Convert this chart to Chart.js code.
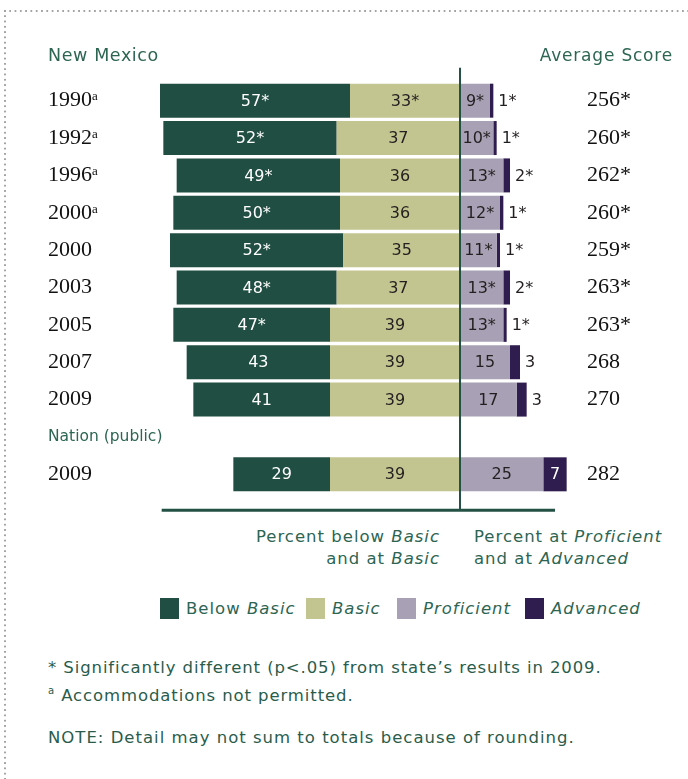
<!DOCTYPE html>
<html>
<head>
<meta charset="utf-8">
<script src="https://cdn.jsdelivr.net/npm/chart.js@4.4.1/dist/chart.umd.min.js"></script>
<style>
  html, body { margin: 0; padding: 0; background: #fff; }
  body { width: 688px; height: 779px; position: relative; overflow: hidden;
         font-family: 'DejaVu Sans', sans-serif; color: #2d6553; }
  .dots-top { position: absolute; left: 4px; top: 10px; width: 684px; height: 2px;
              background-image: linear-gradient(to right, #a3a3a3 0 2px, transparent 2px 100%);
              background-size: 5.3px 2px; }
  .dots-left { position: absolute; left: 4px; top: 10px; width: 2px; height: 769px;
               background-image: linear-gradient(to bottom, #a3a3a3 0 2px, transparent 2px 100%);
               background-size: 2px 5.3px; }
  #chart { position: absolute; left: 0; top: 0; }
  .txt { position: absolute; font-size: 16.5px; line-height: 22px; white-space: nowrap; letter-spacing: 1px; }
  .lg { position: absolute; top: 598px; height: 21px; display: flex; align-items: center;
        font-size: 16.5px; white-space: nowrap; letter-spacing: 1px; }
  .lg .sw { display: inline-block; width: 19px; height: 21px; margin-right: 7px; }
  .notes { position: absolute; left: 48px; font-size: 16.5px; line-height: 23px; color: #2a5c4c;
           white-space: nowrap; letter-spacing: 0.9px; }
</style>
</head>
<body>
<div class="dots-top"></div>
<div class="dots-left"></div>
<canvas id="chart" width="688" height="520"></canvas>

<div class="txt" style="left:48px; top:44px; font-size:17.5px; letter-spacing:0.6px;">New Mexico</div>
<div class="txt" style="right:15px; top:44px; font-size:17px; letter-spacing:0.8px;">Average Score</div>

<div class="txt" style="right:248px; top:526px; text-align:right;">Percent below <i>Basic</i><br>and at <i>Basic</i></div>
<div class="txt" style="left:474px; top:526px;">Percent at <i>Proficient</i><br>and at <i>Advanced</i></div>

<div id="legend"></div>

<div class="notes" style="top:656px;">* Significantly different (p&lt;.05) from state’s results in 2009.<br><sup style="font-size:10px;">a</sup> Accommodations not permitted.</div>
<div class="notes" style="top:726px; letter-spacing:1px;">NOTE: Detail may not sum to totals because of rounding.</div>

<script>
const categories = ['1990ᵃ', '1992ᵃ', '1996ᵃ', '2000ᵃ', '2000', '2003', '2005', '2007', '2009', 'Nation (public)', '2009'];
const belowBasic = [57, 52, 49, 50, 52, 48, 47, 43, 41, null, 29];
const basic      = [33, 37, 36, 36, 35, 37, 39, 39, 39, null, 39];
const proficient = [9, 10, 13, 12, 11, 13, 13, 15, 17, null, 25];
const advanced   = [1, 1, 2, 1, 1, 2, 1, 3, 3, null, 7];

const belowBasicText = ['57*', '52*', '49*', '50*', '52*', '48*', '47*', '43', '41', '', '29'];
const basicText      = ['33*', '37', '36', '36', '35', '37', '39', '39', '39', '', '39'];
const proficientText = ['9*', '10*', '13*', '12*', '11*', '13*', '13*', '15', '17', '', '25'];
const advancedText   = ['1*', '1*', '2*', '1*', '1*', '2*', '1*', '3', '3', '', '7'];
const averageScore   = ['256*', '260*', '262*', '260*', '259*', '263*', '263*', '268', '270', '', '282'];

const colors = {
    belowBasic: '#214e42',
    basic: '#c3c590',
    proficient: '#a8a0b4',
    advanced: '#301d4f',
    line: '#235144'
};

// legend in html so "Basic" can be italic
const legendItems = [
    ['Below <i>Basic</i>', colors.belowBasic, 160],
    ['<i>Basic</i>', colors.basic, 306],
    ['<i>Proficient</i>', colors.proficient, 397],
    ['<i>Advanced</i>', colors.advanced, 525]
];
document.getElementById('legend').innerHTML = legendItems.map(it =>
    `<div class="lg" style="left:${it[2]}px"><span class="sw" style="background:${it[1]}"></span><span>${it[0]}</span></div>`).join('');

const barLabels = {
    id: 'barLabels',
    afterDatasetsDraw(chart) {
        const ctx = chart.ctx;
        ctx.save();
        ctx.font = '16px "DejaVu Sans"';
        ctx.textBaseline = 'middle';
        chart.data.datasets.forEach((ds, di) => {
            const meta = chart.getDatasetMeta(di);
            meta.data.forEach((bar, i) => {
                const txt = ds.texts[i];
                if (!txt) return;
                const left = Math.min(bar.x, bar.base);
                const right = Math.max(bar.x, bar.base);
                if (ds.key === 'advanced' && Math.abs(ds.data[i]) < 5) {
                    ctx.fillStyle = '#231f20';
                    ctx.textAlign = 'left';
                    ctx.fillText(txt, right + 5, bar.y + 1);
                } else {
                    ctx.fillStyle = (ds.key === 'belowBasic' || ds.key === 'advanced') ? '#ffffff' : '#231f20';
                    ctx.textAlign = 'center';
                    ctx.fillText(txt, (left + right) / 2, bar.y + 1);
                }
            });
        });
        ctx.restore();
    }
};

const centerLines = {
    id: 'centerLines',
    afterDatasetsDraw(chart) {
        const ctx = chart.ctx;
        const x = chart.scales.x;
        const y = chart.scales.y;
        const zero = x.getPixelForValue(0);
        const top = y.getPixelForValue(0) - 33;
        const bottom = y.getPixelForValue(categories.length - 1) + 36;
        ctx.save();
        ctx.strokeStyle = colors.line;
        ctx.lineWidth = 2;
        ctx.beginPath();
        ctx.moveTo(zero, top);
        ctx.lineTo(zero, bottom);
        ctx.stroke();
        ctx.lineWidth = 3;
        ctx.beginPath();
        ctx.moveTo(x.getPixelForValue(-89.5), bottom);
        ctx.lineTo(x.getPixelForValue(28.5), bottom);
        ctx.stroke();
        ctx.restore();
    }
};

const neg = arr => arr.map(v => v == null ? null : -v);

new Chart(document.getElementById('chart').getContext('2d'), {
    type: 'bar',
    data: {
        labels: categories,
        datasets: [
            { key: 'basic', label: 'Basic', data: neg(basic), texts: basicText, backgroundColor: colors.basic },
            { key: 'belowBasic', label: 'Below Basic', data: neg(belowBasic), texts: belowBasicText, backgroundColor: colors.belowBasic },
            { key: 'proficient', label: 'Proficient', data: proficient, texts: proficientText, backgroundColor: colors.proficient },
            { key: 'advanced', label: 'Advanced', data: advanced, texts: advancedText, backgroundColor: colors.advanced }
        ]
    },
    options: {
        indexAxis: 'y',
        responsive: false,
        animation: false,
        barPercentage: 0.91,
        categoryPercentage: 1,
        clip: false,
        layout: { padding: { left: 48, right: 8, top: 82, bottom: 27 } },
        plugins: { legend: { display: false }, tooltip: { enabled: false } },
        scales: {
            x: { stacked: true, display: false, min: -86.1, max: 36 },
            y: {
                stacked: true,
                offset: true,
                grid: { display: false, drawTicks: false },
                border: { display: false },
                afterFit: s => { s.width = 125; },
                ticks: {
                    autoSkip: false,
                    crossAlign: 'far',
                    padding: 0,
                    color: c => c.index === 9 ? '#2d6553' : '#111111',
                    font: c => c.index === 9 ? { family: 'DejaVu Sans', size: 15.5 } : { family: 'Liberation Serif', size: 22 }
                }
            },
            y2: {
                type: 'category',
                position: 'right',
                labels: averageScore,
                offset: true,
                grid: { display: false, drawTicks: false },
                border: { display: false },
                afterFit: s => { s.width = 100; },
                ticks: {
                    autoSkip: false,
                    crossAlign: 'near',
                    padding: 7,
                    color: '#111111',
                    font: { family: 'Liberation Serif', size: 22 }
                }
            }
        }
    },
    plugins: [barLabels, centerLines]
});
</script>
</body>
</html>
